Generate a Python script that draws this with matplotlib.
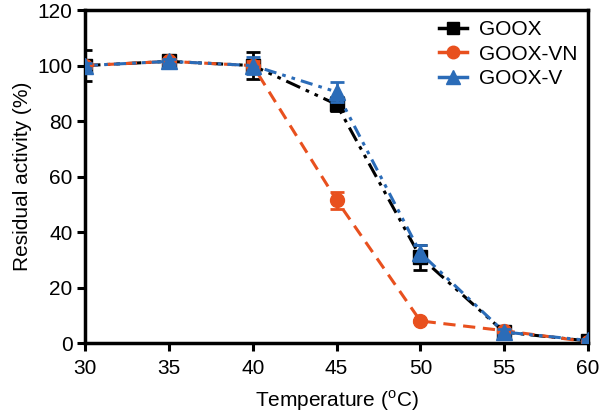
import numpy as np
import matplotlib
matplotlib.use('Agg')
import matplotlib.pyplot as plt
from matplotlib.lines import Line2D

plt.rcParams['font.family'] = ['Liberation Sans', 'DejaVu Sans']
plt.rcParams['mathtext.fontset'] = 'custom'
plt.rcParams['mathtext.rm'] = 'Liberation Sans'

temps = [30, 35, 40, 45, 50, 55, 60]
goox = [100, 101.5, 100, 86, 31, 4, 0.8]
goox_err = [5.5, 1.5, 5, 2.5, 4.5, 1, 0.8]
goox_vn = [100, 101.5, 100, 51.5, 8, 4.5, 0.5]
goox_vn_err = [1, 1, 1.5, 3, 0.5, 0.5, 0.3]
goox_v = [100, 101.5, 100, 90.5, 32.5, 4, 1]
goox_v_err = [1, 1, 3, 3.5, 3, 1, 0.5]

black = 'k'
orange = '#E8501E'
blue = '#2B6CB8'
ls_k = (0, (5, 2, 1.2, 2, 1.2, 2))
ls_o = (0, (4, 2.5))
ls_b = (3, (4, 2, 1.2, 2, 1.2, 2))

fig = plt.figure(figsize=(6, 4.18), dpi=100)
ax = fig.add_axes([0.142, 0.179, 0.838, 0.797])

ax.errorbar(temps, goox, yerr=goox_err, color=black, marker='s', ms=10,
            ls=ls_k, lw=2.2, capsize=5, elinewidth=2, capthick=2, zorder=3)
ax.errorbar(temps, goox_vn, yerr=goox_vn_err, color=orange, marker='o', ms=10,
            ls=ls_o, lw=2.2, capsize=5, elinewidth=2, capthick=2, zorder=4)
ax.errorbar(temps, goox_v, yerr=goox_v_err, color=blue, marker='^', ms=11,
            ls=ls_b, lw=2.2, capsize=5, elinewidth=2, capthick=2, zorder=5)

ax.set_xlim(30, 60)
ax.set_ylim(0, 120)
ax.set_xticks(np.arange(30, 61, 5))
ax.set_yticks(np.arange(0, 121, 20))
ax.tick_params(direction='out', length=5.5, width=2.2, labelsize=15)
ax.tick_params(axis='x', pad=6)
for s in ax.spines.values():
    s.set_linewidth(2.5)
    s.set_clip_on(False)

ax.set_xlabel('Temperature ($^{\\mathregular{o}}$C)', fontsize=15, labelpad=7)
ax.set_ylabel('Residual activity (%)', fontsize=15, labelpad=4)

handles = [Line2D([], [], color=black, marker='s', ms=9, lw=2.5),
           Line2D([], [], color=orange, marker='o', ms=9, lw=2.5),
           Line2D([], [], color=blue, marker='^', ms=10, lw=2.5)]
ax.legend(handles, ['GOOX', 'GOOX-VN', 'GOOX-V'], loc='upper right',
          frameon=False, fontsize=15, handlelength=1.3, handletextpad=0.6,
          borderaxespad=0.1, labelspacing=0.25, bbox_to_anchor=(1.0, 1.0))

fig.savefig('out.png', dpi=100)
